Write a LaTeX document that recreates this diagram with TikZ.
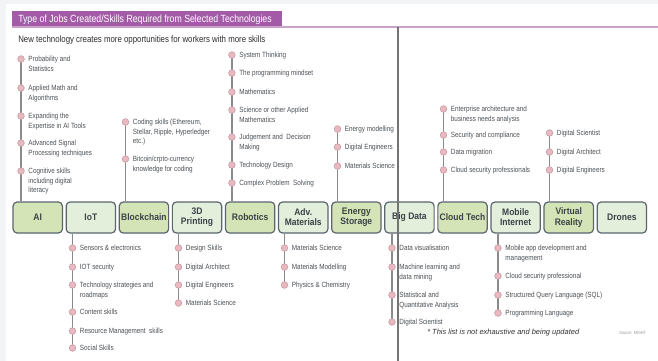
\documentclass[tikz,border=0pt]{standalone}
\usepackage{fontspec}
\setmainfont{Liberation Sans}
\newfontfamily\cond{Liberation Sans}[FakeStretch=0.84]
\newfontfamily\bcond{Liberation Sans Bold}[FakeStretch=0.9]
\usetikzlibrary{calc}
\pgfdeclarelayer{bg}
\pgfsetlayers{bg,main}
\definecolor{pagegray}{HTML}{F3F4F6}
\definecolor{hdrpurple}{HTML}{A35BA7}
\definecolor{hdrline}{HTML}{C9A2CC}
\definecolor{greenA}{HTML}{D4E4B6}
\definecolor{greenB}{HTML}{E3EFDB}
\definecolor{boxline}{HTML}{5A6570}
\definecolor{labeltxt}{HTML}{3C4248}
\definecolor{skilltxt}{HTML}{4C5156}
\definecolor{stemgray}{HTML}{8A8A8A}
\definecolor{dotfill}{HTML}{EAB8C0}
\definecolor{dotline}{HTML}{C39AA1}
\newcommand\sk[1]{\begin{tabular}[t]{@{}l@{}}#1\end{tabular}}
\newcommand\skillitem[4]{%
  \node[skdot] (#1) at (#2,#3) {};
  \node[skill] (#1t) at ([xshift=5.4pt,yshift=-2pt]#1.center) {\sk{#4}};}
\tikzset{
  tech/.style={draw=boxline, line width=0.9pt, rounded corners=3pt,
    minimum width=37pt, minimum height=23.25pt, inner sep=1pt, align=center,
    font=\bcond\fontsize{7.1}{7.6}\selectfont, text=labeltxt},
  techA/.style={tech, fill=greenA},
  techB/.style={tech, fill=greenB},
  skdot/.style={circle, draw=dotline, fill=dotfill, line width=0.4pt,
    minimum size=5pt, inner sep=0pt},
  stemline/.style={draw=stemgray, line width=1.1pt},
  skill/.style={anchor=base west, inner sep=0pt,
    font=\cond\fontsize{5.65}{7.1}\selectfont, text=skilltxt},
}
\begin{document}
\begin{tikzpicture}[x=0.75pt,y=-0.75pt]
\useasboundingbox (0,0) rectangle (658,361);
\begin{pgfonlayer}{bg}
\fill[pagegray] (0,0) rectangle (658,361);
\fill[white] (6,4) rectangle (658,361);
\end{pgfonlayer}
% header
\fill[hdrpurple] (12,11) rectangle (282,27);
\draw[hdrline, line width=1.1pt] (12,27) -- (658,27);
\node[anchor=base west, inner sep=0pt, text=white,
  font=\cond\fontsize{7.8}{8.5}\selectfont] (title) at (18,22.5)
  {Type of Jobs Created/Skills Required from Selected Technologies};
\node[anchor=base west, inner sep=0pt, text=black!82,
  font=\cond\fontsize{7}{7.5}\selectfont] (subtitle) at (18,42)
  {New technology creates more opportunities for workers with more skills};

% technology boxes
\node[techA] (ai)   at (37.75,217.5) {AI};
\node[techB] (iot)  at (90.85,217.5) {IoT};
\node[techA] (bc)   at (143.95,217.5) {Blockchain};
\node[techB] (tdp)  at (197.05,217.5) {3D\\Printing};
\node[techA] (rob)  at (250.15,217.5) {Robotics};
\node[techB] (adv)  at (303.25,217.5) {Adv.\\Materials};
\node[techA] (ene)  at (356.35,217.5) {Energy\\Storage};
\node[techB] (bd)   at (409.45,217.5) {Big Data};
\node[techA] (ct)   at (462.55,217.5) {Cloud Tech};
\node[techB] (mi)   at (515.65,217.5) {Mobile\\Internet};
\node[techA] (vr)   at (568.75,217.5) {Virtual\\Reality};
\node[techB] (dr)   at (621.85,217.5) {Drones};

% AI
\skillitem{ai1}{21}{59}{Probability and\\Statistics}
\skillitem{ai2}{21}{88}{Applied Math and\\Algorithms}
\skillitem{ai3}{21}{116}{Expanding the\\Expertise in AI Tools}
\skillitem{ai4}{21}{143}{Advanced Signal\\Processing techniques}
\skillitem{ai5}{21}{171}{Cognitive skills\\including digital\\literacy}
% Blockchain
\skillitem{bc1}{125.5}{122}{Coding skills (Ethereum,\\Stellar, Ripple, Hyperledger\\etc.)}
\skillitem{bc2}{125.5}{159}{Bitcoin/crpto-currency\\knowledge for coding}
% Robotics
\skillitem{rob1}{231.9}{55}{System Thinking}
\skillitem{rob2}{231.9}{73}{The programming mindset}
\skillitem{rob3}{231.9}{92}{Mathematics}
\skillitem{rob4}{231.9}{110}{Science or other Applied\\Mathematics}
\skillitem{rob5}{231.9}{137}{Judgement and\ \ Decision\\Making}
\skillitem{rob6}{231.9}{165}{Technology Design}
\skillitem{rob7}{231.9}{183}{Complex Problem\ \ Solving}
% Energy Storage
\skillitem{ene1}{337.5}{129}{Energy modelling}
\skillitem{ene2}{337.5}{147}{Digital Engineers}
\skillitem{ene3}{337.5}{166}{Materials Science}
% Cloud Tech
\skillitem{ct1}{443.5}{109}{Enterprise architecture and\\business needs analysis}
\skillitem{ct2}{443.5}{135}{Security and compliance}
\skillitem{ct3}{443.5}{152}{Data migration}
\skillitem{ct4}{443.5}{170}{Cloud security professionals}
% Virtual Reality
\skillitem{vr1}{549.5}{133}{Digital Scientist}
\skillitem{vr2}{549.5}{152}{Digital Architect}
\skillitem{vr3}{549.5}{170}{Digital Engineers}
% IoT
\skillitem{iot1}{72.5}{248}{Sensors \& electronics}
\skillitem{iot2}{72.5}{267}{IOT security}
\skillitem{iot3}{72.5}{285}{Technology strategies and\\roadmaps}
\skillitem{iot4}{72.5}{312}{Content skills}
\skillitem{iot5}{72.5}{331}{Resource Management\ \ skills}
\skillitem{iot6}{72.5}{348}{Social Skills}
% 3D Printing
\skillitem{tdp1}{178.5}{248}{Design Skills}
\skillitem{tdp2}{178.5}{267}{Digital Architect}
\skillitem{tdp3}{178.5}{285}{Digital Engineers}
\skillitem{tdp4}{178.5}{303}{Materials Science}
% Adv. Materials
\skillitem{adv1}{284.5}{248}{Materials Science}
\skillitem{adv2}{284.5}{267}{Materials Modelling}
\skillitem{adv3}{284.5}{285}{Physics \& Chemistry}
% Big Data
\skillitem{bd1}{392}{248}{Data visualisation}
\skillitem{bd2}{392}{267}{Machine learning and\\data mining}
\skillitem{bd3}{392}{295}{Statistical and\\Quantitative Analysis}
\skillitem{bd4}{392}{322}{Digital Scientist}
% Mobile Internet
\skillitem{mi1}{498}{248}{Mobile app development and\\management}
\skillitem{mi2}{498}{276}{Cloud security professional}
\skillitem{mi3}{498}{295}{Structured Query Language (SQL)}
\skillitem{mi4}{498}{313}{Programming Language}

% stems
\begin{pgfonlayer}{bg}
\draw[stemline] (ai1.center) -- (ai1 |- ai.north);
\draw[stemline] (bc1.center) -- (bc1 |- bc.north);
\draw[stemline] (rob1.center) -- (rob1 |- rob.north);
\draw[stemline] (ene1.center) -- (ene1 |- ene.north);
\draw[stemline] (ct1.center) -- (ct1 |- ct.north);
\draw[stemline] (vr1.center) -- (vr1 |- vr.north);
\draw[stemline] (iot6.center) -- (iot6 |- iot.south);
\draw[stemline] (tdp4.center) -- (tdp4 |- tdp.south);
\draw[stemline] (adv3.center) -- (adv3 |- adv.south);
\draw[stemline] (bd4.center) -- (bd4 |- bd.south);
\draw[stemline] (mi4.center) -- (mi4 |- mi.south);
\end{pgfonlayer}

% page divider
\coordinate (divtop) at (398,27);
\coordinate (divbot) at (398,361);
\draw[black!55, line width=0.8pt] (divtop) -- (divbot);

% footnotes
\node[anchor=base west, inner sep=0pt, text=black!80,
  font=\itshape\fontsize{5.6}{6.5}\selectfont] (note) at (427,334.5)
  {* This list is not exhaustive and being updated};
\node[anchor=base west, inner sep=0pt, text=black!40,
  font=\cond\fontsize{3.4}{4}\selectfont] (src) at (619,334)
  {Source: MIGHT};
\end{tikzpicture}
\end{document}
